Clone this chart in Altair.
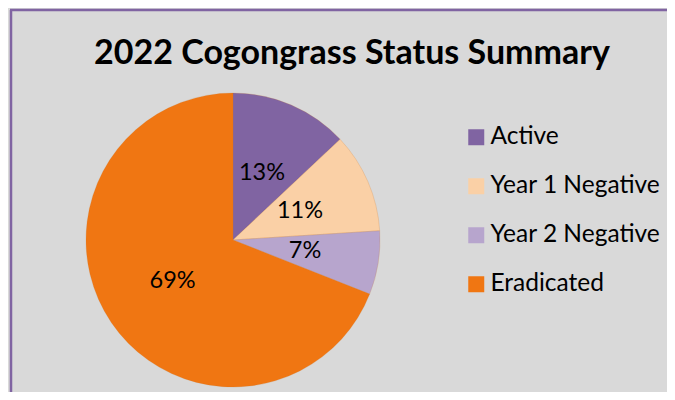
import altair as alt
import pandas as pd

categories = ["Active", "Year 1 Negative", "Year 2 Negative", "Eradicated"]
percents = [13, 11, 7, 69]
colors = ["#8064A2", "#FAD0A6", "#B7A5CD", "#F07612"]
labels = [f"{p}%" for p in percents]

df = pd.DataFrame({
    "category": categories,
    "pct": percents,
    "label": labels,
    "order": list(range(len(categories))),
})

W, H = 656, 382
CX, CY, R = 222, 230, 147

base = alt.Chart(df).encode(
    theta=alt.Theta("pct:Q", stack=True),
    order=alt.Order("order:Q"),
    x=alt.value(CX),
    y=alt.value(CY),
)

pie = base.mark_arc(radius=R, stroke="#C8752A", strokeWidth=0.5, strokeOpacity=0.4).encode(
    color=alt.Color(
        "category:N",
        scale=alt.Scale(domain=categories, range=colors),
        sort=categories,
        legend=alt.Legend(
            title=None,
            orient="none",
            legendX=453,
            legendY=115,
            symbolType="square",
            symbolSize=256,
            symbolStrokeWidth=0,
            labelFont="Lato",
            labelFontSize=24.5,
            labelColor="#000000",
            labelLimit=300,
            labelOffset=2,
            rowPadding=24,
        ),
    )
)

text = base.mark_text(radius=73, font="Lato", fontSize=23.5, color="#000000").encode(
    text="label:N"
)

border_left = alt.Chart(alt.Data(values=[{}])).mark_rule(
    color="#8064A2", strokeWidth=2.5
).encode(x=alt.value(0), y=alt.value(0), y2=alt.value(H))
border_top = alt.Chart(alt.Data(values=[{}])).mark_rule(
    color="#8064A2", strokeWidth=2.5
).encode(x=alt.value(-1), x2=alt.value(W), y=alt.value(0))

chart = (
    alt.layer(pie, text, border_left, border_top)
    .properties(
        width=W,
        height=H,
        padding={"left": 3, "top": 2, "right": 0, "bottom": 0},
        autosize=alt.AutoSizeParams(type="none"),
        background="#D9D9D9",
        title=alt.TitleParams(
            "2022 Cogongrass Status Summary",
            font="Lato",
            fontSize=34,
            fontWeight="bold",
            color="#000000",
            anchor="middle",
            orient="top",
            baseline="alphabetic",
            offset=0,
            dy=89,
            dx=13,
        ),
    )
    .configure_view(fill="#D9D9D9", stroke=None)
)

chart.save("out.html", embed_options={"renderer": "svg", "actions": False})
